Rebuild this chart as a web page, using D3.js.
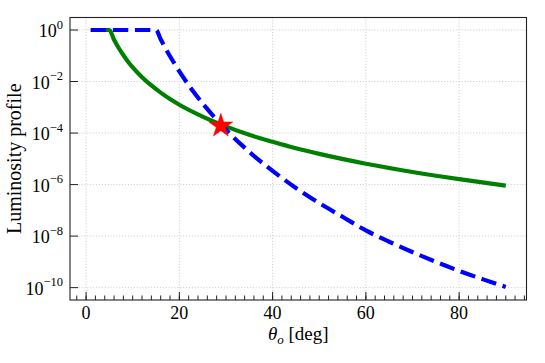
<!DOCTYPE html>
<html>
<head>
<meta charset="utf-8">
<script src="https://cdn.jsdelivr.net/npm/d3@7"></script>
<style>
  html, body { margin: 0; padding: 0; background: #fff; }
  svg { display: block; }
  text { font-family: "Liberation Serif", "Times New Roman", serif; fill: #000; }
</style>
</head>
<body>
<svg id="chart" width="545" height="363"></svg>
<script>
// ---- data ----
const greenTheta = [1, 3, 5, 6, 7, 8, 9, 10, 12, 14, 16, 18, 20, 25, 30, 35, 40, 45, 50, 60, 70, 80, 90];
const greenLum = [1, 1, 1, 0.417, 0.2, 0.105, 0.0589, 0.0355, 0.0148, 7.08e-3, 3.72e-3, 2.09e-3, 1.26e-3,
                  4.37e-4, 1.82e-4, 8.51e-5, 4.57e-5, 2.57e-5, 1.55e-5, 6.46e-6, 3.09e-6, 1.62e-6, 9.12e-7];

const blueTheta = [1, 5, 10, 15, 16, 17, 18, 19, 20, 22, 25, 28, 30, 35, 40, 45, 50, 55, 60, 65, 70, 75, 80, 85, 90];
const blueLum = [1, 1, 1, 1, 0.437, 0.2, 0.0955, 0.0479, 0.0245, 7.24e-3, 1.41e-3, 3.31e-4, 1.35e-4,
                 1.86e-5, 3.39e-6, 7.41e-7, 1.91e-7, 5.62e-8, 1.66e-8, 6.03e-9, 2.40e-9, 1.0e-9, 4.47e-10, 2.14e-10, 1.07e-10];

const starTheta = [28.9];
const starLum = [1.9e-4];

const xMajorTicks = [0, 20, 40, 60, 80];
const xMinorTicks = d3.range(-2, 95, 2);
const yTickExps = [0, -2, -4, -6, -8, -10];

// ---- layout ----
const svg = d3.select("#chart");
const L = 70, R = 526.5, T = 17.5, B = 300;

const x = d3.scaleLinear().domain([-3.45, 94.45]).range([L, R]);
const y = d3.scaleLog().domain([Math.pow(10, 0.485), Math.pow(10, -10.48)]).range([T, B]);

// grid
const grid = svg.append("g").attr("stroke", "#c8c8c8").attr("stroke-width", 0.9).attr("stroke-dasharray", "1.1,1.8");
grid.selectAll("line.v").data(xMajorTicks).join("line")
  .attr("x1", d => x(d)).attr("x2", d => x(d)).attr("y1", T).attr("y2", B);
grid.selectAll("line.h").data(yTickExps).join("line")
  .attr("x1", L).attr("x2", R).attr("y1", d => y(Math.pow(10, d))).attr("y2", d => y(Math.pow(10, d)));

// clip
svg.append("clipPath").attr("id", "clip").append("rect").attr("x", L).attr("y", T).attr("width", R - L).attr("height", B - T);
const plot = svg.append("g").attr("clip-path", "url(#clip)");

const line = d3.line().curve(d3.curveMonotoneX);

const greenPts = greenTheta.map((t, i) => [x(t), y(greenLum[i])]);
const bluePts = blueTheta.map((t, i) => [x(t), y(blueLum[i])]);

plot.append("path").attr("d", line(greenPts)).attr("fill", "none")
  .attr("stroke", "#008000").attr("stroke-width", 4.2);
plot.append("path").attr("d", line(bluePts)).attr("fill", "none")
  .attr("stroke", "#0000ff").attr("stroke-width", 4.2).attr("stroke-dasharray", "15.4,6.7");

plot.selectAll("path.star").data(starTheta).join("path")
  .attr("d", d3.symbol().type(d3.symbolStar).size(178))
  .attr("transform", (d, i) => `translate(${x(d)},${y(starLum[i])})`)
  .attr("fill", "#ff0000").attr("stroke", "#ff0000").attr("stroke-width", 0.5);

// ticks
const tickColor = "#222";
const tk = svg.append("g").attr("stroke", tickColor).attr("stroke-width", 1);
tk.selectAll("line.xmin").data(xMinorTicks).join("line")
  .attr("x1", d => x(d)).attr("x2", d => x(d)).attr("y1", B).attr("y2", B - 4.5);
tk.selectAll("line.xmaj").data(xMajorTicks).join("line")
  .attr("x1", d => x(d)).attr("x2", d => x(d)).attr("y1", B).attr("y2", B - 8);
tk.selectAll("line.ymaj").data(yTickExps).join("line")
  .attr("x1", L).attr("x2", L + 8).attr("y1", d => y(Math.pow(10, d))).attr("y2", d => y(Math.pow(10, d)));

// spines
svg.append("rect").attr("x", L).attr("y", T).attr("width", R - L).attr("height", B - T)
  .attr("fill", "none").attr("stroke", tickColor).attr("stroke-width", 1.1);

// x tick labels
svg.selectAll("text.xt").data(xMajorTicks).join("text")
  .attr("x", d => x(d)).attr("y", 318.5).attr("text-anchor", "middle")
  .attr("font-size", 18).text(d => d);

// y tick labels
const yt = svg.selectAll("text.yt").data(yTickExps).join("text")
  .attr("x", 63).attr("y", d => y(Math.pow(10, d)) + 7.3).attr("text-anchor", "end")
  .attr("font-size", 18);
yt.append("tspan").text("10");
yt.append("tspan").attr("dy", -8.5).attr("font-size", 12.5)
  .text(d => d === 0 ? "0" : "\u2212" + Math.abs(d));

// x label
const xl = svg.append("text").attr("x", (L + R) / 2).attr("y", 340).attr("text-anchor", "middle").attr("font-size", 19);
xl.append("tspan").attr("font-style", "italic").text("\u03B8");
xl.append("tspan").attr("font-style", "italic").attr("font-size", 13).attr("dy", 3.5).text("o");
xl.append("tspan").attr("dy", -3.5).text(" [deg]");

// y label
svg.append("text").attr("transform", `translate(21,${(T + B) / 2}) rotate(-90)`)
  .attr("text-anchor", "middle").attr("font-size", 20).text("Luminosity profile");
</script>
</body>
</html>
